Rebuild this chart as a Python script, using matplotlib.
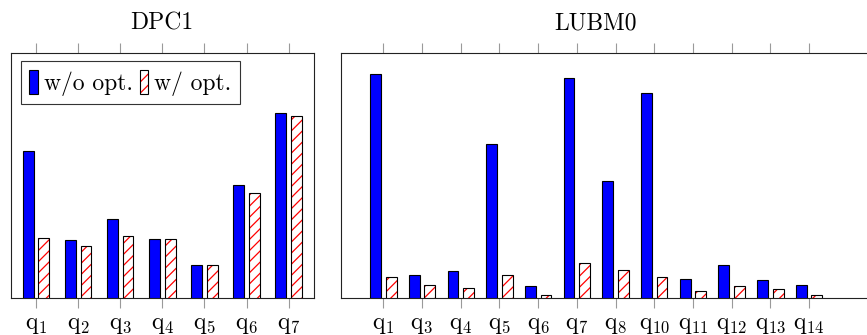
"""Query times with and without the optimisation, DPC1 and LUBM0."""

import matplotlib

matplotlib.use("Agg")
import matplotlib.pyplot as plt
import numpy as np
from matplotlib.legend_handler import HandlerTuple
from matplotlib.patches import Patch

# values (arbitrary units, no y axis shown)
dpc_queries = ["1", "2", "3", "4", "5", "6", "7"]
dpc_without = [147.3, 57.7, 78.7, 59.0, 32.7, 113.3, 185.0]
dpc_with = [59.7, 51.7, 61.7, 59.0, 32.7, 105.0, 181.7]

lubm_queries = ["1", "3", "4", "5", "6", "7", "8", "10", "11", "12", "13", "14"]
lubm_without = [223.7, 23.0, 27.0, 153.7, 12.3, 219.7, 117.3, 205.3, 19.0, 33.3, 18.0, 13.0]
lubm_with = [21.3, 13.0, 9.7, 22.7, 2.7, 34.7, 28.3, 20.7, 7.3, 12.0, 8.7, 3.0]

YMAX = 245.3
FS = 17

plt.rcParams["font.family"] = "cmr10"
plt.rcParams["mathtext.fontset"] = "cm"
plt.rcParams["hatch.linewidth"] = 0.9
plt.rcParams["axes.unicode_minus"] = False

W, H = 867, 335
fig = plt.figure(figsize=(W / 100, H / 100), dpi=100)


def px_axes(x0, x1, y0, y1):
    return fig.add_axes([x0 / W, 1 - y1 / H, (x1 - x0) / W, (y1 - y0) / H])


def draw_panel(ax, queries, without, with_opt, spacing, xmin, xmax):
    x = np.arange(len(queries))
    bw = 10.8 / spacing
    off = 7.8 / spacing
    ax.bar(x - off, without, bw, color="#0000ff", edgecolor="black", linewidth=0.8, zorder=3)
    ax.bar(x + off, with_opt, bw, color="white", edgecolor="red", hatch="///",
           linewidth=0, zorder=3)
    ax.bar(x + off, with_opt, bw, fill=False, edgecolor="black", linewidth=0.8, zorder=4)
    ax.set_xlim(xmin, xmax)
    ax.set_ylim(0, YMAX)
    ax.set_yticks([])
    ax.set_xticks(x)
    ax.set_xticklabels([r"$\mathrm{q}_{%s}$" % q for q in queries], fontsize=FS)
    ax.tick_params(axis="x", which="both", direction="out", top=True, bottom=True,
                   length=7.5, width=0.8, color="#9a9a9a", pad=4)
    for s in ax.spines.values():
        s.set_linewidth(0.8)
        s.set_color("#222222")


# left panel
ax1 = px_axes(11.3, 314.3, 52.7, 298.0)
sp1 = 42.11
draw_panel(ax1, dpc_queries, dpc_without, dpc_with, sp1,
           -(36.0 - 11.3) / sp1, 6 + (314.3 - 288.7) / sp1)

# right panel runs off the right edge of the figure
ax2 = px_axes(341.0, 890.0, 52.7, 298.0)
sp2 = 38.7
draw_panel(ax2, lubm_queries, lubm_without, lubm_with, sp2,
           -(383.3 - 341.0) / sp2, (890.0 - 383.3) / sp2)

fig.text(161.7 / W, 1 - 29.0 / H, "DPC1", ha="center", va="baseline", fontsize=FS)
fig.text(595.8 / W, 1 - 29.0 / H, "LUBM0", ha="center", va="baseline", fontsize=FS)

h_without = Patch(facecolor="#0000ff", edgecolor="black", linewidth=0.8)
h_with = (Patch(facecolor="white", edgecolor="red", hatch="///", linewidth=0),
          Patch(fill=False, edgecolor="black", linewidth=0.8))
leg = ax1.legend([h_without, h_with], ["w/o opt.", "w/ opt."], ncol=2,
                 loc="upper left", bbox_to_anchor=(0.031, 0.967), borderaxespad=0,
                 fontsize=FS, handlelength=0.35, handleheight=1.2,
                 handletextpad=0.26, columnspacing=0.3, borderpad=0.37,
                 fancybox=False, framealpha=1, edgecolor="#333333",
                 handler_map={tuple: HandlerTuple(ndivide=1, pad=0)})
leg.get_frame().set_linewidth(0.8)

fig.savefig("out.png", dpi=100)
